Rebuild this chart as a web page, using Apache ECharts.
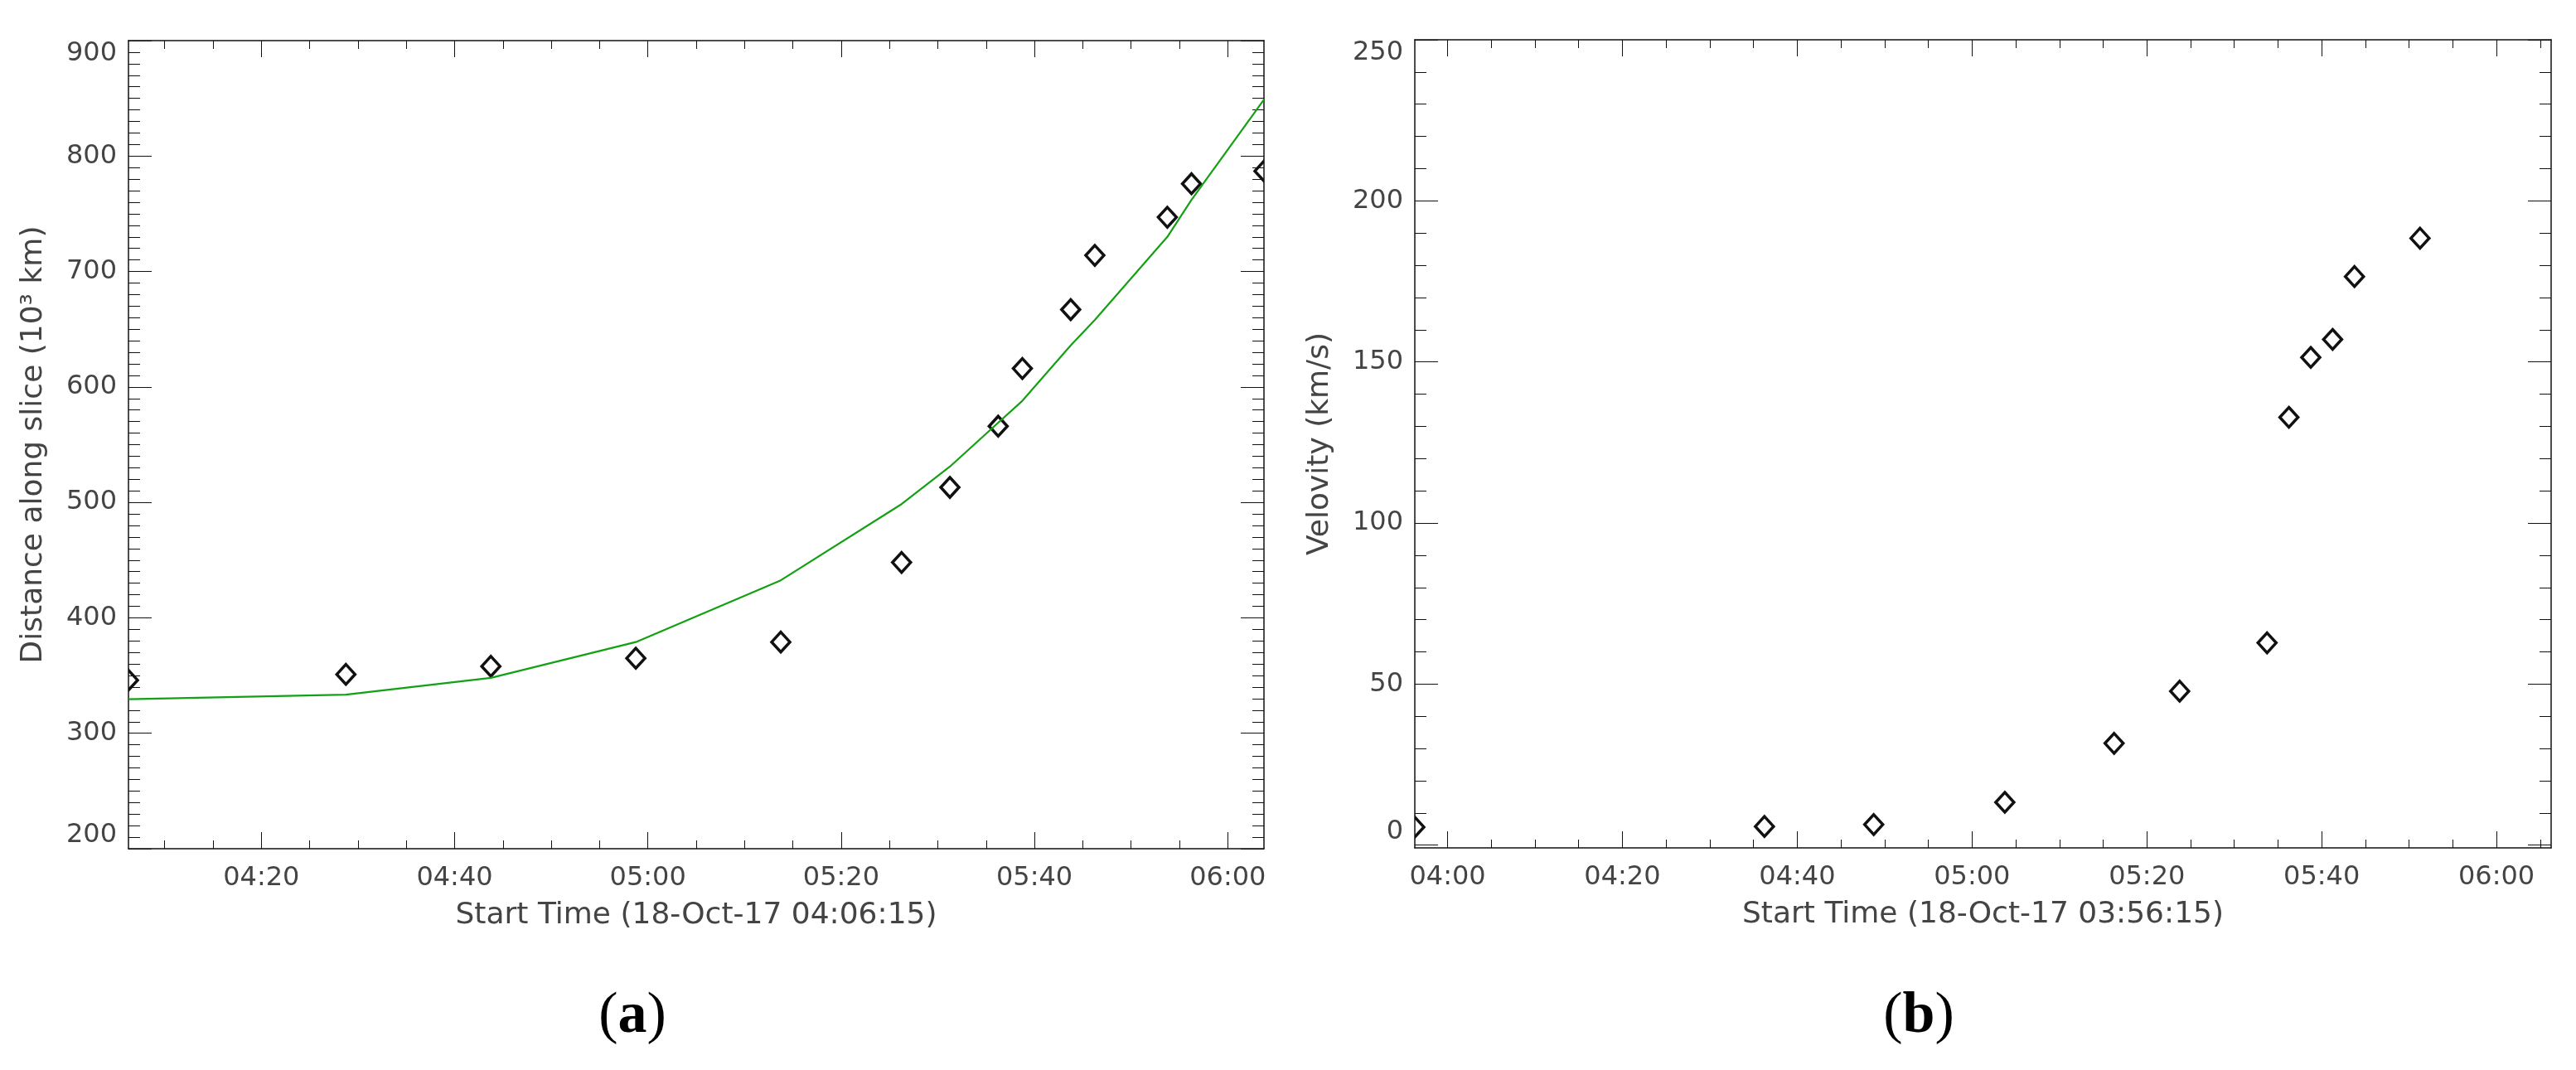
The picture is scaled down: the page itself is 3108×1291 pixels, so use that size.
<!DOCTYPE html>
<html>
<head>
<meta charset="utf-8">
<script src="https://cdn.jsdelivr.net/npm/echarts@6/dist/echarts.min.js"></script>
<style>
  html, body { margin: 0; padding: 0; background: #fff; }
  #chart { width: 3108px; height: 1291px; }
</style>
</head>
<body>
<div id="chart"></div>
<script>
// times are minutes after 04:00 UT, 18-Oct-17
var aTimes    = [6.25, 28.75, 43.75, 58.75, 73.75, 86.25, 91.25, 96.25, 98.75, 103.75, 106.25, 113.75, 116.25, 123.75];
var aDistance = [346, 351, 358, 365, 379, 448, 513, 566, 616, 667, 714, 747, 776, 787];
var aFit      = [329.5, 333.5, 348, 379, 432.5, 498.5, 531, 569, 588, 636, 658, 730, 762, 849];

var bTimes    = [-3.75, 36.25, 48.75, 63.75, 76.25, 83.75, 93.75, 96.25, 98.75, 101.25, 103.75, 111.25];
var bVelocity = [5.6, 5.8, 6.4, 13.3, 31.6, 47.8, 62.8, 132.8, 151.4, 157.0, 176.5, 188.4];

var aTimeTicks = [20, 40, 60, 80, 100, 120];
var bTimeTicks = [0, 20, 40, 60, 80, 100, 120];
var bVelTicks  = [0, 50, 100, 150, 200, 250];

var aRange = [6.25, 123.75];
var bRange = [-3.75, 126.25];

var ink = '#111';
var textInk = '#444';
var font = "'DejaVu Sans', sans-serif";

function hhmm(m) {
    var h = 4 + Math.floor(m / 60);
    var mm = Math.round(m - Math.floor(m / 60) * 60);
    return (h < 10 ? '0' : '') + h + ':' + (mm < 10 ? '0' : '') + mm;
}

function minorList(lo, hi, step) {
    var out = [];
    for (var v = Math.ceil(lo / step) * step; v <= hi + 1e-9; v += step) out.push(v);
    return out;
}

function pairs(xs, ys) {
    return xs.map(function (x, i) { return [x, ys[i]]; });
}

function diamond(params, api) {
    var p = api.coord([api.value(0), api.value(1)]);
    var w = 11, h = 12;
    return {
        type: 'polygon',
        shape: { points: [[p[0], p[1] - h], [p[0] + w, p[1]], [p[0], p[1] + h], [p[0] - w, p[1]]] },
        style: { fill: 'none', stroke: ink, lineWidth: 3.5 }
    };
}

function timeAxis(grid, range, pos, ticks, len, opts) {
    var ax = {
        type: 'value', gridIndex: grid, position: pos, min: range[0], max: range[1],
        splitLine: { show: false },
        axisLine: { show: !!opts.line, onZero: false, lineStyle: { color: ink, width: 1.5 } },
        axisTick: { show: true, inside: true, length: len, customValues: ticks, lineStyle: { color: ink, width: 1 } },
        axisLabel: { show: false }
    };
    if (opts.labels) {
        ax.axisLabel = {
            show: true, customValues: ticks, margin: 20, fontSize: 32, fontFamily: font, color: textInk,
            formatter: function (v) { return hhmm(v); }
        };
        ax.name = opts.name;
        ax.nameLocation = 'middle';
        ax.nameGap = 63;
        ax.nameTextStyle = { fontSize: 36, fontFamily: font, color: textInk };
    }
    return ax;
}

function valueAxis(grid, pos, range, opts) {
    var ax = {
        type: 'value', gridIndex: grid, position: pos, min: range[0], max: range[1],
        splitLine: { show: false },
        axisLine: { show: !!opts.line, onZero: false, lineStyle: { color: ink, width: 1.5 } },
        axisTick: { show: true, inside: true, length: opts.len, lineStyle: { color: ink, width: 1 } },
        axisLabel: { show: false }
    };
    if (opts.interval) {
        ax.interval = opts.interval;
        ax.minorTick = { show: true, splitNumber: 10, length: 14, lineStyle: { color: ink, width: 1 } };
    }
    if (opts.ticks) ax.axisTick.customValues = opts.ticks;
    if (opts.labels) {
        ax.axisLabel = {
            show: true, margin: 14, fontSize: 32, fontFamily: font, color: textInk,
            verticalAlignMinLabel: 'bottom', verticalAlignMaxLabel: 'top'
        };
        if (opts.ticks) ax.axisLabel.customValues = opts.ticks;
        ax.name = opts.name;
        ax.nameLocation = 'middle';
        ax.nameGap = 96;
        ax.nameTextStyle = { fontSize: 36, fontFamily: font, color: textInk };
    }
    return ax;
}

var chart = echarts.init(document.getElementById('chart'), null, { renderer: 'canvas' });

var aDist = [200, 900];
var bVel = [-0.85, 250];

var option = {
    animation: false,
    backgroundColor: '#fff',
    grid: [
        { left: 155, top: 49, width: 1370, height: 975 },
        { left: 1707, top: 48, width: 1371, height: 975 }
    ],
    xAxis: [
        timeAxis(0, aRange, 'bottom', aTimeTicks, 20, { line: true, labels: true, name: 'Start Time (18-Oct-17 04:06:15)' }),
        timeAxis(0, aRange, 'bottom', minorList(aRange[0], aRange[1], 5), 10, {}),
        timeAxis(0, aRange, 'top', aTimeTicks, 20, { line: true }),
        timeAxis(0, aRange, 'top', minorList(aRange[0], aRange[1], 5), 10, {}),
        timeAxis(1, bRange, 'bottom', bTimeTicks, 20, { line: true, labels: true, name: 'Start Time (18-Oct-17 03:56:15)' }),
        timeAxis(1, bRange, 'bottom', minorList(bRange[0], bRange[1], 5), 10, {}),
        timeAxis(1, bRange, 'top', bTimeTicks, 20, { line: true }),
        timeAxis(1, bRange, 'top', minorList(bRange[0], bRange[1], 5), 10, {})
    ],
    yAxis: [
        valueAxis(0, 'left', aDist, { line: true, len: 28, interval: 100, labels: true, name: 'Distance along slice (10³ km)' }),
        valueAxis(0, 'right', aDist, { line: true, len: 28, interval: 100 }),
        valueAxis(1, 'left', bVel, { line: true, len: 28, ticks: bVelTicks, labels: true, name: 'Velovity (km/s)' }),
        valueAxis(1, 'left', bVel, { len: 14, ticks: minorList(0, 250, 10) }),
        valueAxis(1, 'right', bVel, { line: true, len: 28, ticks: bVelTicks }),
        valueAxis(1, 'right', bVel, { len: 14, ticks: minorList(0, 250, 10) })
    ],
    series: [
        {
            type: 'line', xAxisIndex: 0, yAxisIndex: 0, data: pairs(aTimes, aFit),
            showSymbol: false, symbol: 'none', clip: true,
            lineStyle: { color: '#14a014', width: 2.2 }
        },
        {
            type: 'custom', xAxisIndex: 0, yAxisIndex: 0, data: pairs(aTimes, aDistance),
            clip: true, renderItem: diamond, encode: { x: 0, y: 1 }
        },
        {
            type: 'custom', xAxisIndex: 4, yAxisIndex: 2, data: pairs(bTimes, bVelocity),
            clip: true, renderItem: diamond, encode: { x: 0, y: 1 }
        }
    ],
    graphic: [
        {
            type: 'text', x: 763, y: 1227,
            style: {
                text: '{p|(}{b|a}{p|)}', align: 'center', verticalAlign: 'middle',
                rich: {
                    p: { fontFamily: "'Liberation Serif', serif", fontSize: 70, fill: '#000' },
                    b: { fontFamily: "'Liberation Serif', serif", fontSize: 70, fontWeight: 'bold', fill: '#000' }
                }
            }
        },
        {
            type: 'text', x: 2315, y: 1227,
            style: {
                text: '{p|(}{b|b}{p|)}', align: 'center', verticalAlign: 'middle',
                rich: {
                    p: { fontFamily: "'Liberation Serif', serif", fontSize: 70, fill: '#000' },
                    b: { fontFamily: "'Liberation Serif', serif", fontSize: 70, fontWeight: 'bold', fill: '#000' }
                }
            }
        }
    ]
};

chart.setOption(option);
</script>
</body>
</html>
